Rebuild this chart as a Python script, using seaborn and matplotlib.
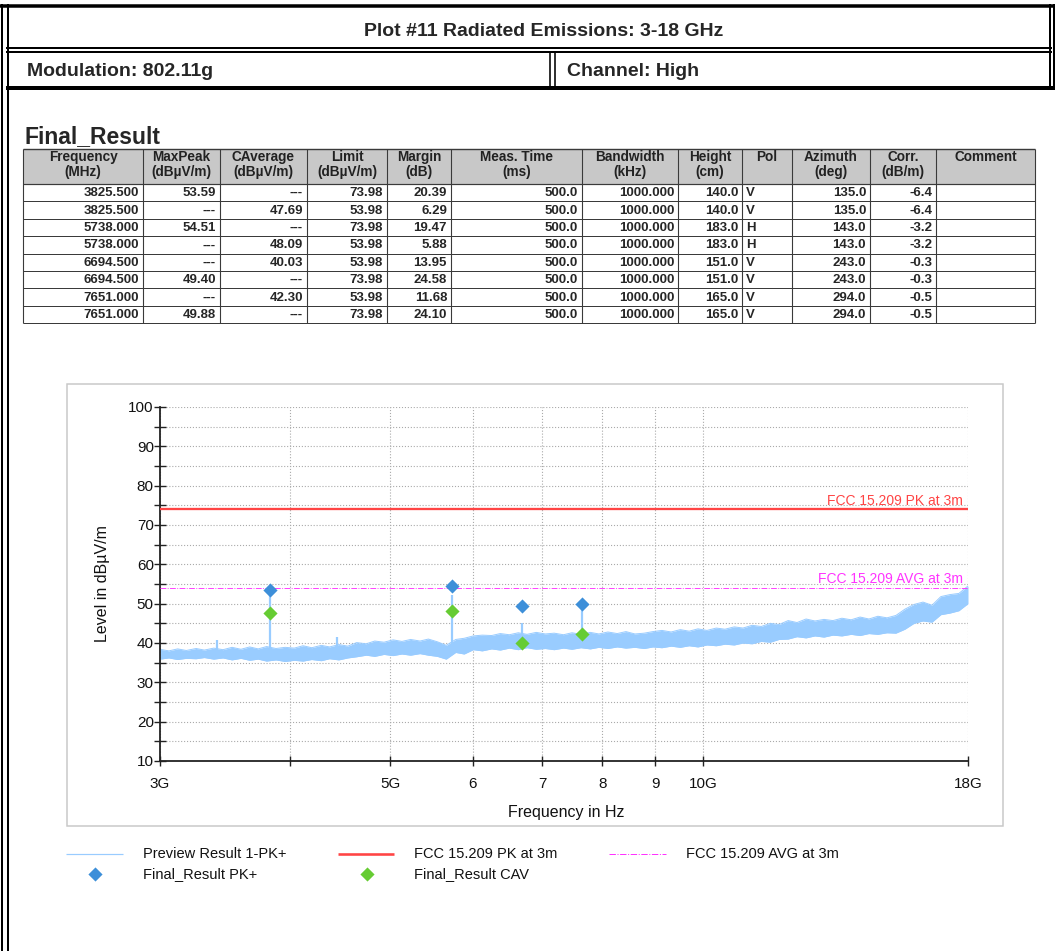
import numpy as np
import pandas as pd
import matplotlib
matplotlib.use("Agg")
import matplotlib.pyplot as plt
import seaborn as sns
from matplotlib import font_manager
from matplotlib.patches import Rectangle

# ---------------- report header ----------------
title_text = "Plot #11 Radiated Emissions: 3-18 GHz"
modulation_text = "Modulation: 802.11g"
channel_text = "Channel: High"
table_title = "Final_Result"

# ---------------- Final_Result table ----------------
table_headers = ["Frequency\n(MHz)", "MaxPeak\n(dBµV/m)", "CAverage\n(dBµV/m)", "Limit\n(dBµV/m)",
                 "Margin\n(dB)", "Meas. Time\n(ms)", "Bandwidth\n(kHz)", "Height\n(cm)", "Pol",
                 "Azimuth\n(deg)", "Corr.\n(dB/m)", "Comment"]
freq_mhz = [3825.5, 3825.5, 5738.0, 5738.0, 6694.5, 6694.5, 7651.0, 7651.0]
max_peak = [53.59, None, 54.51, None, None, 49.40, None, 49.88]
c_average = [None, 47.69, None, 48.09, 40.03, None, 42.30, None]
limit_db = [73.98, 53.98, 73.98, 53.98, 53.98, 73.98, 53.98, 73.98]
margin_db = [20.39, 6.29, 19.47, 5.88, 13.95, 24.58, 11.68, 24.10]
meas_time_ms = [500.0, 500.0, 500.0, 500.0, 500.0, 500.0, 500.0, 500.0]
bandwidth_khz = [1000.0, 1000.0, 1000.0, 1000.0, 1000.0, 1000.0, 1000.0, 1000.0]
height_cm = [140.0, 140.0, 183.0, 183.0, 151.0, 151.0, 165.0, 165.0]
polarization = ["V", "V", "H", "H", "V", "V", "V", "V"]
azimuth_deg = [135.0, 135.0, 143.0, 143.0, 243.0, 243.0, 294.0, 294.0]
corr_db = [-6.4, -6.4, -3.2, -3.2, -0.3, -0.3, -0.5, -0.5]

# ---------------- limit lines ----------------
pk_limit = 73.98
avg_limit = 53.98
pk_limit_label = "FCC 15.209 PK at 3m"
avg_limit_label = "FCC 15.209 AVG at 3m"

# ---------------- preview scan (envelope of the PK+ trace) ----------------
preview_mhz = [3000, 3060, 3120, 3180, 3250, 3310, 3380, 3450, 3520, 3590, 3660, 3730, 3800,
               3880, 3960, 4040, 4120, 4200, 4290, 4370, 4460, 4550, 4640, 4740, 4830, 4930,
               5030, 5130, 5230, 5340, 5440, 5550, 5660, 5780, 5890, 6010, 6130, 6260, 6380,
               6510, 6640, 6770, 6910, 7050, 7190, 7340, 7480, 7630, 7790, 7940, 8100, 8270,
               8430, 8600, 8780, 8950, 9130, 9320, 9510, 9700, 9890, 10090, 10300, 10500,
               10720, 10930, 11150, 11380, 11610, 11840, 12080, 12320, 12570, 12820, 13080,
               13340, 13610, 13890, 14170, 14450, 14740, 15040, 15340, 15650, 15970, 16290,
               16620, 16950, 17290, 17640, 18000]
preview_lo = [35.9, 36.2, 35.8, 36.1, 36.0, 36.3, 35.9, 36.2, 35.7, 36.1, 35.6, 35.9, 35.4,
              35.7, 35.3, 35.6, 35.4, 35.8, 35.5, 36.0, 35.7, 36.2, 36.5, 36.9, 36.6, 37.1,
              36.8, 37.2, 36.9, 37.3, 36.9, 36.6, 35.9, 37.6, 37.2, 38.3, 38.0, 38.5, 38.2,
              38.7, 38.3, 38.8, 38.4, 38.6, 38.3, 38.7, 38.4, 38.8, 38.5, 38.9, 38.6, 39.0,
              38.7, 38.9, 38.6, 39.0, 38.8, 39.2, 38.9, 39.3, 39.0, 39.5, 39.3, 39.7,
              39.5, 40.0, 39.8, 40.4, 40.2, 40.9, 41.0, 41.6, 41.3, 41.8, 41.5,
              42.0, 41.8, 42.2, 41.9, 42.4, 42.2, 42.6, 42.5, 43.5, 45.0, 45.6,
              45.3, 47.2, 47.6, 48.2, 50.0]
preview_hi = [38.4, 38.0, 38.5, 38.1, 38.6, 38.2, 38.7, 38.3, 38.9, 38.4, 39.0, 38.5, 39.1,
              38.6, 38.9, 38.7, 39.3, 38.8, 39.4, 39.0, 39.6, 39.2, 40.1, 39.8, 40.5, 40.2,
              40.8, 40.4, 40.9, 40.5, 41.0, 40.3, 39.4, 40.9, 41.2, 41.8, 42.0, 41.9, 42.4,
              42.1, 42.6, 42.2, 42.7, 42.3, 42.5, 42.1, 42.6, 42.2, 42.7, 42.3, 42.8, 42.4,
              42.9, 42.3, 42.5, 42.9, 43.2, 42.8, 43.4, 43.0, 43.6, 43.2, 43.8, 43.5,
              44.1, 43.8, 44.5, 44.2, 45.0, 44.7, 45.7, 45.2, 46.1, 45.6, 46.0,
              45.7, 46.3, 45.9, 46.6, 46.1, 46.8, 46.4, 47.0, 48.6, 49.8, 50.4,
              49.6, 51.8, 52.3, 52.6, 54.5]
# narrow spikes of the preview trace
spike_mhz = [3404.0, 3825.5, 4440.0, 5738.0, 6694.5, 7651.0]
spike_base = [38.0, 37.5, 38.5, 39.5, 41.0, 41.5]
spike_top = [40.8, 53.3, 41.5, 52.3, 45.2, 49.6]

# ---------------- axis ticks ----------------
x_tick_ghz = [3, 4, 5, 6, 7, 8, 9, 10, 18]
x_tick_labels = ["3G", "", "5G", "6", "7", "8", "9", "10G", "18G"]
y_major = [10, 20, 30, 40, 50, 60, 70, 80, 90, 100]
y_minor = [15, 25, 35, 45, 55, 65, 75, 85, 95]

# ---------------- colours ----------------
trace_color = "#99CCFF"
pk_color = "#3D8FD9"
cav_color = "#66CC33"
pk_line_color = "#FF4444"
avg_line_color = "#FF33FF"

# ---------------- fonts ----------------
sns.set_theme(style="white")
available = {f.name for f in font_manager.fontManager.ttflist}
sans = "Liberation Sans" if "Liberation Sans" in available else "DejaVu Sans"
narrow = "Liberation Sans Narrow" if "Liberation Sans Narrow" in available else sans
plt.rcParams["font.family"] = [sans, "DejaVu Sans"]

W, H = 1055, 951
fig = plt.figure(figsize=(W / 100, H / 100), dpi=100)

# page layer in pixel coordinates
bg = fig.add_axes([0, 0, 1, 1], zorder=0)
bg.set_xlim(0, W)
bg.set_ylim(H, 0)
bg.axis("off")

PX = 0.72  # points per pixel


def hline(x0, x1, y, lw, color="black", **kw):
    bg.plot([x0, x1], [y, y], color=color, lw=lw * PX, solid_capstyle="butt", **kw)


def vline(x, y0, y1, lw, color="black", **kw):
    bg.plot([x, x], [y0, y1], color=color, lw=lw * PX, solid_capstyle="butt", **kw)


# report frame
hline(0, W, 5.5, 3.5)
vline(2, 4, H, 2)
vline(7.5, 4, H, 2)
vline(1050, 4, 89, 2)
vline(1054, 4, 89, 2)
hline(6, 1052, 48, 2)
hline(6, 1052, 52, 2)
hline(6, W, 87.5, 4)
vline(550, 52, 86, 1.6)
vline(554.5, 52, 86, 1.6)

bg.text(544, 31.5, title_text, ha="center", va="center", fontsize=14, weight="bold", family=narrow)
bg.text(27, 71.5, modulation_text, ha="left", va="center", fontsize=14, weight="bold", family=narrow)
bg.text(567, 71.5, channel_text, ha="left", va="center", fontsize=14, weight="bold", family=narrow)

# ---------------- table ----------------
bg.text(25, 143, table_title, ha="left", va="baseline", fontsize=16.5, weight="bold")

col_edges = [23, 143, 220, 307, 387, 451, 582, 678, 742, 792, 870, 936, 1035]
hdr_top, hdr_bot = 149, 184
row_h = 17.4
n_rows = len(freq_mhz)
tbl_bot = hdr_bot + n_rows * row_h

bg.add_patch(Rectangle((col_edges[0], hdr_top), col_edges[-1] - col_edges[0], hdr_bot - hdr_top,
                       facecolor="#C8C8C8", edgecolor="none", zorder=1))
grid_c = "#3A3A3A"
hline(col_edges[0], col_edges[-1], hdr_top, 1.4, grid_c, zorder=2)
hline(col_edges[0], col_edges[-1], hdr_bot, 1.2, grid_c, zorder=2)
for i in range(1, n_rows + 1):
    hline(col_edges[0], col_edges[-1], hdr_bot + i * row_h, 1.0, grid_c, zorder=2)
for x in col_edges:
    vline(x, hdr_top, tbl_bot, 1.1, grid_c, zorder=2)

for j, head in enumerate(table_headers):
    cx = (col_edges[j] + col_edges[j + 1]) / 2
    bg.text(cx, 150, head, ha="center", va="top", fontsize=9.8, weight="bold",
            linespacing=1.12, color="#222222", zorder=3)


def fmt(v, spec):
    return "---" if v is None else format(v, spec)


for i in range(n_rows):
    yc = hdr_bot + (i + 0.5) * row_h + 0.5
    cells = [fmt(freq_mhz[i], ".3f"), fmt(max_peak[i], ".2f"), fmt(c_average[i], ".2f"),
             fmt(limit_db[i], ".2f"), fmt(margin_db[i], ".2f"), fmt(meas_time_ms[i], ".1f"),
             fmt(bandwidth_khz[i], ".3f"), fmt(height_cm[i], ".1f"), polarization[i],
             fmt(azimuth_deg[i], ".1f"), fmt(corr_db[i], ".1f"), ""]
    for j, txt in enumerate(cells):
        if j == 8:
            bg.text(col_edges[j] + 4, yc, txt, ha="left", va="center", fontsize=9.5,
                    weight="bold", zorder=3)
        else:
            bg.text(col_edges[j + 1] - 4, yc, txt, ha="right", va="center", fontsize=9.5,
                    weight="bold", zorder=3)

# ---------------- chart panel ----------------
bg.add_patch(Rectangle((67, 384), 936, 442, fill=False, edgecolor="#C8C8C8", lw=1.5 * PX))

ax_l, ax_r, ax_t, ax_b = 160, 968, 407, 761
ax = fig.add_axes([ax_l / W, 1 - ax_b / H, (ax_r - ax_l) / W, (ax_b - ax_t) / H], zorder=1)
ax.set_facecolor("white")

trace = pd.DataFrame({
    "freq_hz": np.array(preview_mhz) * 1e6,
    "lo": preview_lo,
    "hi": preview_hi,
})
ax.fill_between(trace["freq_hz"], trace["lo"], trace["hi"], color=trace_color, lw=0, zorder=2)
sns.lineplot(data=trace, x="freq_hz", y="hi", color=trace_color, lw=0.7, ax=ax, zorder=2)
sns.lineplot(data=trace, x="freq_hz", y="lo", color=trace_color, lw=0.7, ax=ax, zorder=2)
ax.vlines(np.array(spike_mhz) * 1e6, spike_base, spike_top, color=trace_color, lw=1.6, zorder=2)

ax.axhline(pk_limit, color=pk_line_color, lw=2.3 * PX, zorder=3)
ax.axhline(avg_limit, color=avg_line_color, lw=0.9 * PX, ls="-.", zorder=3)
ax.text(17.8e9, pk_limit + 0.4, pk_limit_label, color=pk_line_color, ha="right", va="bottom",
        fontsize=10)
ax.text(17.8e9, avg_limit + 0.4, avg_limit_label, color=avg_line_color, ha="right", va="bottom",
        fontsize=10)

final = pd.DataFrame({"freq_hz": np.array(freq_mhz) * 1e6, "pk": max_peak, "cav": c_average})
pk_pts = final.dropna(subset=["pk"])
cav_pts = final.dropna(subset=["cav"])
sns.scatterplot(data=pk_pts, x="freq_hz", y="pk", marker="D", s=52, color=pk_color,
                linewidth=0, ax=ax, zorder=5)
sns.scatterplot(data=cav_pts, x="freq_hz", y="cav", marker="D", s=52, color=cav_color,
                linewidth=0, ax=ax, zorder=5)

ax.set_xscale("log")
ax.set_xlim(3e9, 18e9)
ax.set_ylim(10, 100)
ax.set_xticks([g * 1e9 for g in x_tick_ghz])
ax.set_xticklabels(x_tick_labels)
ax.xaxis.set_minor_locator(matplotlib.ticker.NullLocator())
ax.set_yticks(y_major)
ax.set_yticks(y_minor, minor=True)
ax.tick_params(axis="x", which="major", direction="inout", length=7, width=1, color="#222222",
               labelsize=11, pad=8, labelcolor="#111111")
ax.tick_params(axis="y", which="both", direction="inout", length=8, width=1, color="#222222",
               labelsize=11, pad=0.5, labelcolor="#111111", left=True)
ax.tick_params(axis="x", bottom=True)
ax.grid(True, which="both", axis="y", color="#AAAAAA", ls=":", lw=0.8)
ax.grid(True, which="major", axis="x", color="#AAAAAA", ls=":", lw=0.8)
ax.set_axisbelow(True)
for side in ["top", "right"]:
    ax.spines[side].set_visible(False)
for side in ["left", "bottom"]:
    ax.spines[side].set_color("#222222")
    ax.spines[side].set_linewidth(1.3)

ax.set_xlabel("Frequency in Hz", fontsize=11.5, va="center", color="#111111")
ax.xaxis.set_label_coords((566 - ax_l) / (ax_r - ax_l), -(813 - ax_b) / (ax_b - ax_t))
ax.set_ylabel("Level in dBµV/m", fontsize=11.5, va="center", color="#111111")
ax.yaxis.set_label_coords(-(ax_l - 103) / (ax_r - ax_l), 0.5)

# ---------------- legend ----------------
leg_fs = 10.5
r1, r2 = 854, 874
hline(66, 123, r1, 1.2, trace_color)
bg.text(143, r1, "Preview Result 1-PK+", va="center", ha="left", fontsize=leg_fs, color="#111111")
hline(338, 394, r1, 2.6, pk_line_color)
bg.text(414, r1, pk_limit_label, va="center", ha="left", fontsize=leg_fs, color="#111111")
hline(609, 666, r1, 1.0, avg_line_color, ls="-.")
bg.text(686, r1, avg_limit_label, va="center", ha="left", fontsize=leg_fs, color="#111111")
bg.scatter([95], [r2], marker="D", s=52, color=pk_color, linewidths=0)
bg.text(143, r2, "Final_Result PK+", va="center", ha="left", fontsize=leg_fs, color="#111111")
bg.scatter([367], [r2], marker="D", s=52, color=cav_color, linewidths=0)
bg.text(414, r2, "Final_Result CAV", va="center", ha="left", fontsize=leg_fs, color="#111111")

fig.savefig("out.png", dpi=100)
